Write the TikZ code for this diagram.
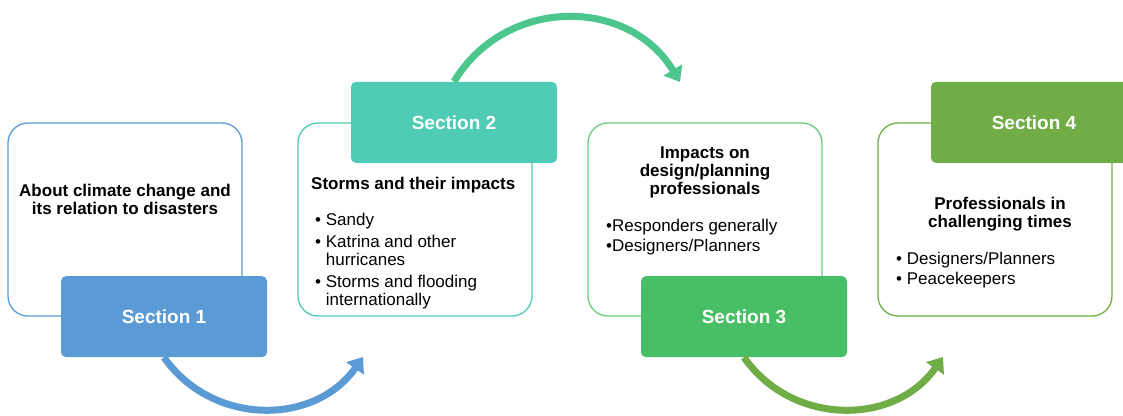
\documentclass[tikz,border=0pt]{standalone}
\usepackage{fontspec}
\setmainfont{Liberation Sans}
\usetikzlibrary{arrows.meta,positioning}
\definecolor{secblue}{HTML}{5B9BD5}
\definecolor{secteal}{HTML}{50CBB6}
\definecolor{arcteal}{HTML}{4CC68D}
\definecolor{secgreen}{HTML}{48BF66}
\definecolor{rimgreen}{HTML}{6ACC7C}
\definecolor{secolive}{HTML}{70AD47}
\newcommand\spc{\phantom{\textbullet\ }}

\begin{document}
\begin{tikzpicture}[x=1pt, y=1pt, inner sep=0, font=\fontsize{17}{18}\selectfont]
    \tikzstyle{panel}   = [rectangle, draw, line width=1.3pt, rounded corners=20pt, minimum width=234pt, minimum height=193pt]
    \tikzstyle{tab}     = [rectangle, rounded corners=5pt, minimum width=206pt, minimum height=81pt, text=white, font=\fontsize{19}{22}\selectfont\bfseries]
    \tikzstyle{heading} = [font=\fontsize{17}{18}\selectfont\bfseries, align=center]
    \tikzstyle{bullets} = [anchor=north west, align=left]
    \tikzstyle{sweep}   = [line width=7pt, -{Triangle[width=21pt, length=14pt]}]

    \useasboundingbox (0,0) rectangle (1123,415);
    \clip (0,0) rectangle (1123,415);

    % section 1
    \node[panel, draw=secblue]        (about)  at (125,195.5) {};
    \node[tab, fill=secblue]          (sec1)   at ([xshift=39pt]about.south) {Section 1};
    \node[heading]                    (abouth) at (125,216) {About climate change and\\its relation to disasters};

    % section 2
    \node[panel, draw=secteal]        (storms) at (415,195.5) {};
    \node[tab, fill=secteal]          (sec2)   at ([xshift=39pt]storms.north) {Section 2};
    \node[heading, anchor=north west] (stormh) at (311,238) {Storms and their impacts};
    \node[bullets]                    (storml) at (315,202)
        {\textbullet\ Sandy\\[4pt]
         \textbullet\ Katrina and other\\ \spc hurricanes\\[4pt]
         \textbullet\ Storms and flooding\\ \spc internationally};

    % section 3
    \node[panel, draw=rimgreen]       (impact) at (705,195.5) {};
    \node[tab, fill=secgreen]         (sec3)   at ([xshift=39pt]impact.south) {Section 3};
    \node[heading]                    (imph)   at (705,243) {Impacts on\\design/planning\\professionals};
    \node[bullets, font=\fontsize{17}{20}\selectfont] (impl) at (606,196)
        {\textbullet Responders generally\\ \textbullet Designers/Planners};

    % section 4
    \node[panel, draw=secolive]       (pros)   at (995,195.5) {};
    \node[tab, fill=secolive]         (sec4)   at ([xshift=39pt]pros.north) {Section 4};
    \node[heading]                    (prosh)  at (1000,201) {Professionals in\\challenging times};
    \node[bullets, font=\fontsize{17}{20}\selectfont] (prosl) at (896,163.5)
        {\textbullet\ Designers/Planners\\ \textbullet\ Peacekeepers};

    % arcs between the sections
    \coordinate (into2) at (363,58);
    \coordinate (into3) at (680,333);
    \coordinate (into4) at (943,58);
    \draw[sweep, secblue]  (sec1.south) to[out=-55, in=-125, looseness=1.08] (into2);
    \draw[sweep, arcteal]  (sec2.north) to[out=59,  in=121,  looseness=1.13] (into3);
    \draw[sweep, secolive] (sec3.south) to[out=-55, in=-125, looseness=1.08] (into4);
\end{tikzpicture}
\end{document}
